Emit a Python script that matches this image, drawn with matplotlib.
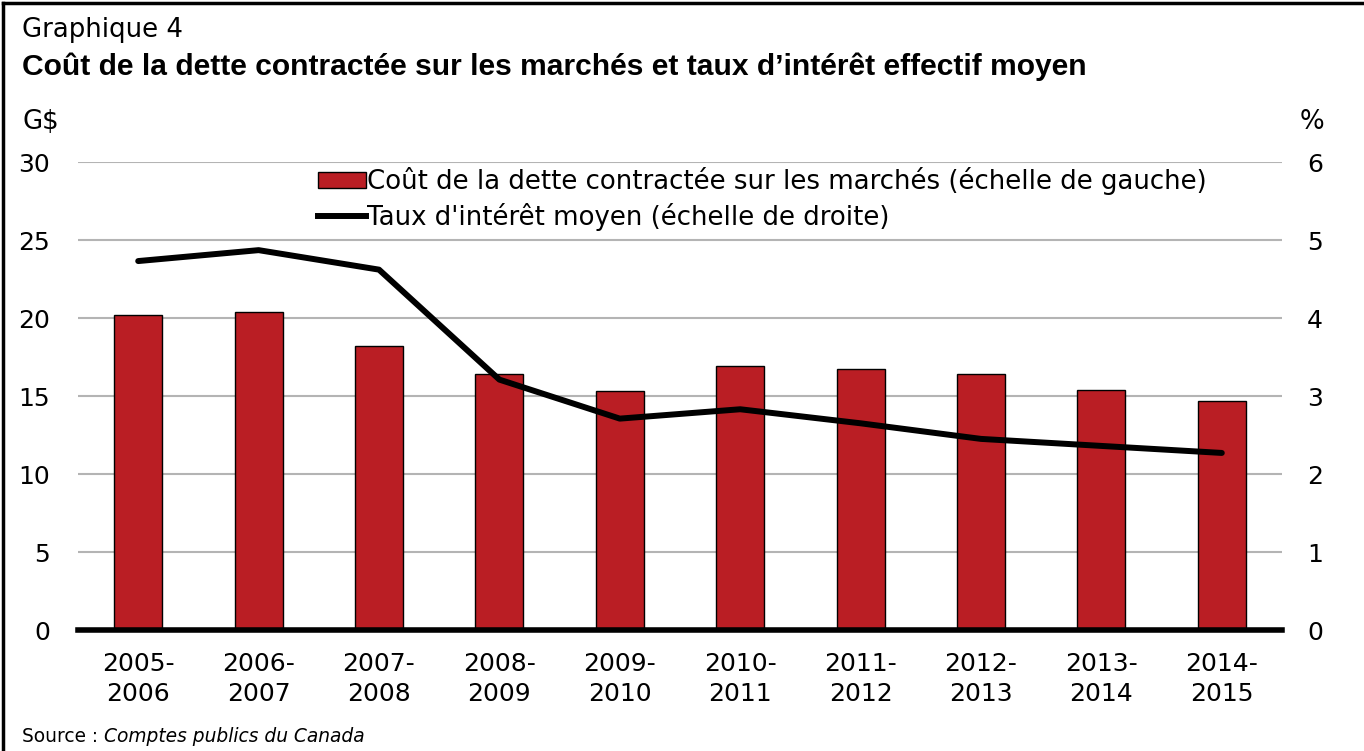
import matplotlib
matplotlib.use("Agg")
import matplotlib.pyplot as plt
from matplotlib.lines import Line2D
from matplotlib.patches import Patch
import numpy as np

categories = ["2005-\n2006", "2006-\n2007", "2007-\n2008", "2008-\n2009", "2009-\n2010",
              "2010-\n2011", "2011-\n2012", "2012-\n2013", "2013-\n2014", "2014-\n2015"]
cout_dette = [20.2, 20.4, 18.2, 16.4, 15.3, 16.9, 16.7, 16.4, 15.4, 14.7]
taux_interet = [4.73, 4.87, 4.62, 3.21, 2.71, 2.83, 2.65, 2.45, 2.36, 2.27]
left_ticks = [0, 5, 10, 15, 20, 25, 30]
right_ticks = [0, 1, 2, 3, 4, 5, 6]

FONT = "DejaVu Sans"
plt.rcParams['font.family'] = [FONT]

W, H = 1364, 751
fig = plt.figure(figsize=(W / 100, H / 100), dpi=100)
fig.patch.set_facecolor("white")

ax = fig.add_axes([78 / W, 1 - 630 / H, (1282 - 78) / W, (630 - 162) / H])
x = np.arange(len(categories))
ax.bar(x, cout_dette, width=0.4, color="#BA1E24", edgecolor="black", linewidth=1, zorder=3)
ax.set_xlim(-0.5, len(categories) - 0.5)
ax.set_ylim(0, 30)
ax.set_yticks(left_ticks)
ax.yaxis.grid(True, color="#b4b4b4", linewidth=1.5, zorder=0)
ax.set_axisbelow(True)
for s in ["top", "right", "left", "bottom"]:
    ax.spines[s].set_visible(False)
ax.axhline(0, color="black", linewidth=4, zorder=5, clip_on=False)
ax.tick_params(axis="both", length=0, labelsize=18, colors="black")
ax.tick_params(axis="y", pad=20)
ax.tick_params(axis="x", pad=16)
ax.set_xticks(x)
ax.set_xticklabels(categories, linespacing=1.3)

ax2 = ax.twinx()
ax2.plot(x, taux_interet, color="black", linewidth=4.3, solid_capstyle="round", zorder=6)
ax2.set_ylim(0, 6)
ax2.set_yticks(right_ticks)
for s in ["top", "right", "left", "bottom"]:
    ax2.spines[s].set_visible(False)
ax2.tick_params(axis="y", length=0, labelsize=18, pad=18)

handles = [Patch(facecolor="#BA1E24", edgecolor="black", linewidth=1),
           Line2D([0], [0], color="black", linewidth=4.3)]
labels = ["Coût de la dette contractée sur les marchés (échelle de gauche)",
          "Taux d'intérêt moyen (échelle de droite)"]
fig.legend(handles, labels, loc="upper left", bbox_to_anchor=(318 / W, 1 - 167 / H),
           frameon=False, fontsize=18.7, handlelength=1.85, handleheight=0.55, handletextpad=0.05,
           labelspacing=0.3, borderaxespad=0, borderpad=0)

fig.text(22 / W, 1 - 30 / H, "Graphique 4", fontsize=18.7, va="center", ha="left")
fig.text(22 / W, 1 - 67 / H, "Coût de la dette contractée sur les marchés et taux d’intérêt effectif moyen",
         fontsize=21.6, fontweight="bold", family="Liberation Sans", va="center", ha="left")
fig.text(22 / W, 1 - 122 / H, "G$", fontsize=18.7, va="center", ha="left")
fig.text(1300 / W, 1 - 122 / H, "%", fontsize=18.7, va="center", ha="left")
t = fig.text(22 / W, 1 - 737 / H, "Source : ", fontsize=13.4, va="center", ha="left")
fig.canvas.draw()
bb = t.get_window_extent()
fig.text(bb.x1 / W, 1 - 737 / H, "Comptes publics du Canada", fontsize=13.4, style="italic",
         va="center", ha="left")

# figure frame (top and left)
fig.add_artist(Line2D([3 / W, 3 / W], [0, 1 - 3 / H], color="black", linewidth=2.5, transform=fig.transFigure))
fig.add_artist(Line2D([3 / W, 1], [1 - 3 / H, 1 - 3 / H], color="black", linewidth=2.5, transform=fig.transFigure))

fig.savefig("out.png", dpi=100)
